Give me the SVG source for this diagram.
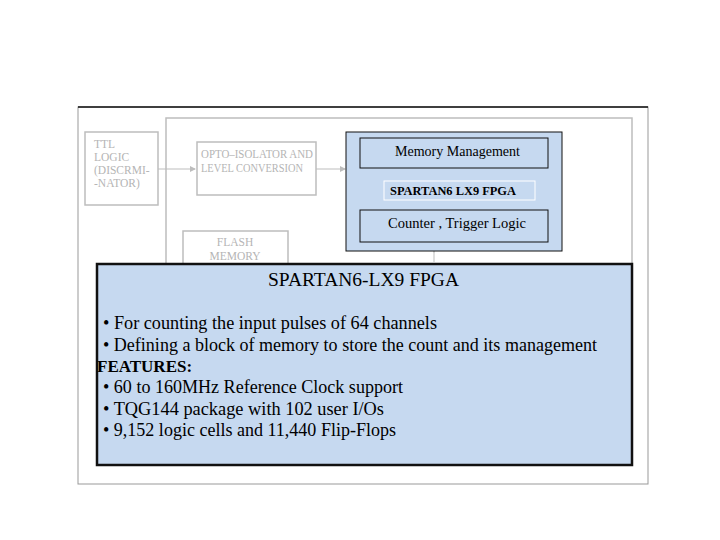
<svg xmlns="http://www.w3.org/2000/svg" width="720" height="540" viewBox="0 0 720 540">
<style>
.g{fill:none;stroke:#bdbdbd;stroke-width:1.5}
.gt{font-family:"Liberation Serif",serif;font-size:11.5px;fill:#b5b5b5}
.b{fill:none;stroke:#111;stroke-width:1}
.t{font-family:"Liberation Serif",serif;fill:#000}
</style>
<defs><marker id="a" markerWidth="6" markerHeight="6" refX="5" refY="3" orient="auto"><path d="M0,0L6,3L0,6z" fill="#bdbdbd"/></marker></defs>
<rect x="0" y="0" width="720" height="540" fill="#fff"/>
<rect id="frame" x="78" y="107" width="570" height="377" fill="none" stroke="#999" stroke-width="1"/>
<line x1="78" y1="107" x2="648" y2="107" stroke="#111" stroke-width="1.5"/>
<g id="outer"><rect class="g" x="166" y="118" width="466" height="150"/></g>
<g id="ttl"><rect class="g" x="85" y="132" width="73" height="73"/>
<text class="gt" x="94" y="148">TTL</text><text class="gt" x="94" y="161">LOGIC</text><text class="gt" x="94" y="174">(DISCRMI-</text><text class="gt" x="94" y="187">-NATOR)</text></g>
<g id="opto"><rect class="g" x="197" y="142" width="119" height="53"/>
<text class="gt" x="201" y="158" textLength="112" lengthAdjust="spacingAndGlyphs">OPTO–ISOLATOR AND</text><text class="gt" x="201" y="172" textLength="102" lengthAdjust="spacingAndGlyphs">LEVEL CONVERSION</text></g>
<g id="flash"><rect class="g" x="183" y="231" width="105" height="40"/>
<text class="gt" x="235" y="246" text-anchor="middle">FLASH</text><text class="gt" x="235" y="260" text-anchor="middle">MEMORY</text></g>
<g id="conn">
<line x1="158" y1="169" x2="195" y2="169" stroke="#bdbdbd" marker-end="url(#a)"/>
<line x1="316" y1="169" x2="345" y2="169" stroke="#bdbdbd" marker-end="url(#a)"/>
<line x1="434" y1="252" x2="434" y2="262" stroke="#bdbdbd" marker-start="url(#a)"/>
</g>
<g id="fpga"><rect x="346" y="132" width="216" height="119" fill="#c6d9f0" stroke="#111"/>
<rect class="b" x="360" y="138" width="188" height="30"/>
<text class="t" x="395" y="156" font-size="14" textLength="125" lengthAdjust="spacingAndGlyphs">Memory Management</text>
<rect x="384" y="181" width="151" height="19" fill="#c6d9f0" stroke="#fff"/>
<text class="t" x="390" y="195" font-size="12" font-weight="bold" textLength="126" lengthAdjust="spacingAndGlyphs">SPARTAN6 LX9 FPGA</text>
<rect class="b" x="360" y="210" width="188" height="32"/>
<text class="t" x="388" y="228" font-size="14" textLength="138" lengthAdjust="spacingAndGlyphs">Counter , Trigger  Logic</text></g>
<g id="info"><rect x="97" y="264" width="535" height="201" fill="#c6d9f0" stroke="#111" stroke-width="2.5"/>
<text class="t" x="268" y="286" font-size="19" textLength="191" lengthAdjust="spacingAndGlyphs">SPARTAN6-LX9  FPGA</text>
<g class="t" font-size="18">
<text x="103" y="329" textLength="334" lengthAdjust="spacingAndGlyphs">• For counting the input pulses of  64 channels</text>
<text x="103" y="351" textLength="494" lengthAdjust="spacingAndGlyphs">• Defining a block of memory to store the count and its management</text>
<text x="97" y="372" font-weight="bold" font-size="17">FEATURES:</text>
<text x="103" y="393" textLength="300" lengthAdjust="spacingAndGlyphs">• 60 to 160MHz Reference Clock support</text>
<text x="103" y="415" textLength="281" lengthAdjust="spacingAndGlyphs">• TQG144 package  with 102 user I/Os</text>
<text x="103" y="436" textLength="293" lengthAdjust="spacingAndGlyphs">• 9,152 logic cells and 11,440 Flip-Flops</text>
</g></g>
</svg>
